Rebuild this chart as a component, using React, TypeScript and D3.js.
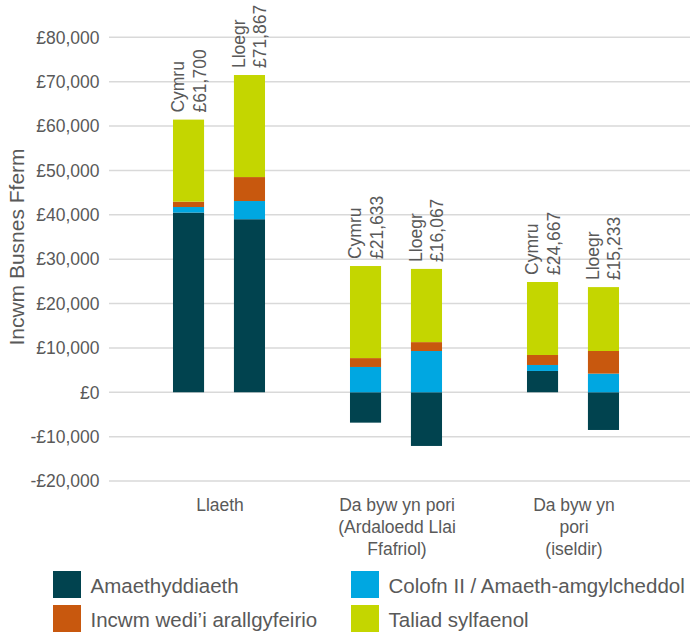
import React from "react";
import * as d3 from "d3";

const categoryLines: string[][] = [
  ["Llaeth"],
  ["Da byw yn pori", "(Ardaloedd Llai", "Ffafriol)"],
  ["Da byw yn", "pori", "(iseldir)"],
];
const countries = ["Cymru", "Lloegr"];

// bar order: [cat0 Cymru, cat0 Lloegr, cat1 Cymru, cat1 Lloegr, cat2 Cymru, cat2 Lloegr]
const amaethyddiaeth = [40500, 39000, -6850, -12100, 4800, -8500];
const colofnII = [1250, 4100, 5700, 9300, 1350, 4200];
const incwmArallgyfeirio = [1200, 5400, 2000, 2000, 2250, 5100];
const taliadSylfaenol = [18500, 23000, 20750, 16500, 16450, 14400];
const totalLabels = ["£61,700", "£71,867", "£21,633", "£16,067", "£24,667", "£15,233"];

const seriesNames = [
  "Amaethyddiaeth",
  "Colofn II / Amaeth-amgylcheddol",
  "Incwm wedi’i arallgyfeirio",
  "Taliad sylfaenol",
];
const seriesColors = ["#01434F", "#00A7E1", "#C8580E", "#C4D600"];
const yTicks = [-20000, -10000, 0, 10000, 20000, 30000, 40000, 50000, 60000, 70000, 80000];

const FONT = "'Liberation Sans', Arial, Helvetica, sans-serif";
const TEXT = "#595959";

export default function App() {
  const width = 692;
  const height = 632;

  const rows = amaethyddiaeth.map((_, i) => ({
    idx: i,
    cat: Math.floor(i / 2),
    country: countries[i % 2],
    s0: amaethyddiaeth[i],
    s1: colofnII[i],
    s2: incwmArallgyfeirio[i],
    s3: taliadSylfaenol[i],
  }));

  const stack = d3
    .stack<any>()
    .keys(["s0", "s1", "s2", "s3"])
    .offset(d3.stackOffsetDiverging);
  const stacked = stack(rows);

  const y = d3.scaleLinear().domain([-20000, 80000]).range([481, 37.3]);
  const x0 = d3
    .scaleBand<number>()
    .domain([0, 1, 2])
    .range([130.5, 661.5])
    .padding(0);
  const x1 = d3
    .scaleBand<string>()
    .domain(countries)
    .range([0, x0.bandwidth()])
    .paddingInner(0.49)
    .paddingOuter(0.697);

  const barX = (r: any) => (x0(r.cat) as number) + (x1(r.country) as number);
  const bw = x1.bandwidth();

  const fmt = (v: number) =>
    (v < 0 ? "-" : "") + "£" + d3.format(",")(Math.abs(v));

  const topOf = (i: number) => {
    let t = 0;
    stacked.forEach((s) => {
      t = Math.max(t, s[i][1]);
    });
    return t;
  };

  return (
    <svg
      width={width}
      height={height}
      style={{ position: "absolute", left: 0, top: 0, background: "#fff" }}
      fontFamily={FONT}
    >
      {/* gridlines */}
      {yTicks.map((t) => (
        <line
          key={"g" + t}
          x1={109}
          x2={690}
          y1={y(t)}
          y2={y(t)}
          stroke="#D9D9D9"
          strokeWidth={1.5}
        />
      ))}
      {/* tick labels */}
      {yTicks.map((t) => (
        <text
          key={"t" + t}
          x={99.5}
          y={y(t)}
          dy="0.36em"
          textAnchor="end"
          fontSize={17.5}
          fill={TEXT}
        >
          {fmt(t)}
        </text>
      ))}
      {/* axis title */}
      <text
        transform={`translate(23.5,247) rotate(-90)`}
        textAnchor="middle"
        fontSize={21}
        fill={TEXT}
      >
        Incwm Busnes Fferm
      </text>
      {/* bars */}
      {stacked.map((s, si) => (
        <g key={"s" + si} fill={seriesColors[si]}>
          {s.map((d, i) => {
            const r = rows[i];
            const top = y(Math.max(d[0], d[1]));
            const bot = y(Math.min(d[0], d[1]));
            return (
              <rect
                key={i}
                x={barX(r)}
                y={top}
                width={bw}
                height={Math.max(0, bot - top)}
              />
            );
          })}
        </g>
      ))}
      {/* bar labels */}
      {rows.map((r, i) => {
        const cx = barX(r) + bw / 2;
        const ty = y(topOf(i)) - 7;
        return (
          <g key={"l" + i} transform={`translate(${cx},${ty}) rotate(-90)`}>
            <text x={0} y={-4.5} fontSize={17.5} fill={TEXT}>
              {r.country}
            </text>
            <text x={0} y={17} fontSize={17.5} fill={TEXT}>
              {totalLabels[i]}
            </text>
          </g>
        );
      })}
      {/* category labels */}
      {categoryLines.map((lines, ci) => (
        <text
          key={"c" + ci}
          textAnchor="middle"
          fontSize={17.5}
          fill={TEXT}
        >
          {lines.map((ln, li) => (
            <tspan
              key={li}
              x={(x0(ci) as number) + x0.bandwidth() / 2 + 1}
              y={511 + li * 22}
            >
              {ln}
            </tspan>
          ))}
        </text>
      ))}
      {/* legend */}
      {seriesNames.map((name, i) => {
        const col = i === 1 || i === 3 ? 1 : 0;
        const row = i < 2 ? 0 : 1;
        const lx = col === 0 ? 53 : 351;
        const ly = row === 0 ? 571 : 605;
        return (
          <g key={"lg" + i}>
            <rect x={lx} y={ly} width={28} height={27} fill={seriesColors[i]} />
            <text x={lx + 37.5} y={ly + 22} fontSize={20.5} fill={TEXT}>
              {name}
            </text>
          </g>
        );
      })}
    </svg>
  );
}
